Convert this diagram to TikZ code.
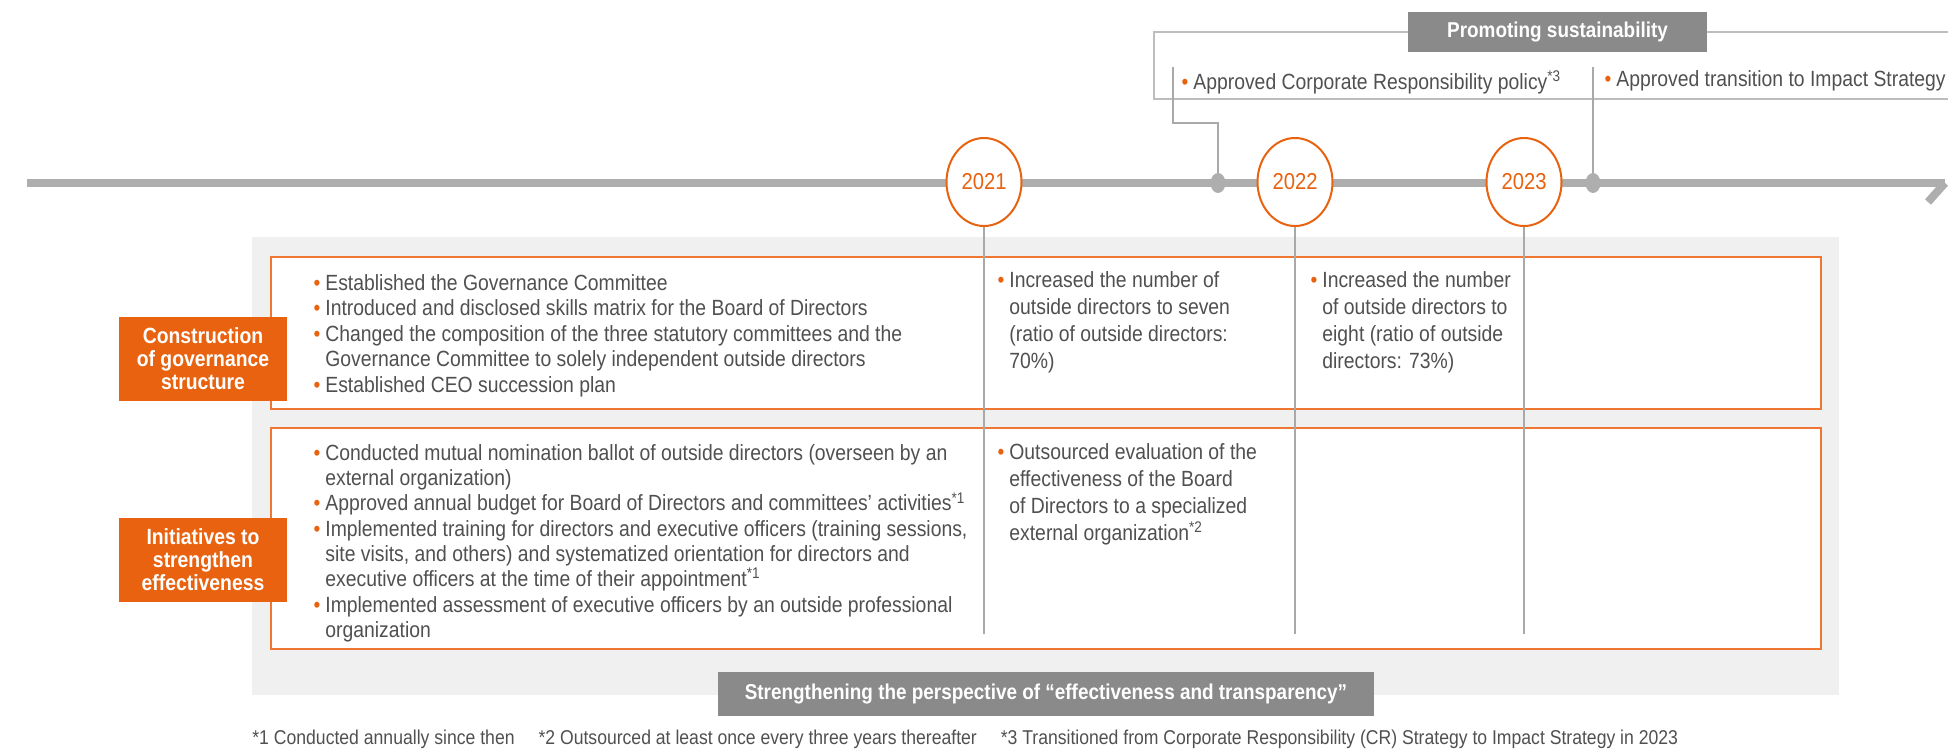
\documentclass[tikz,border=0pt]{standalone}
\usepackage{fontspec}
\setmainfont{Liberation Sans}[FakeStretch=0.88]
\usetikzlibrary{positioning,shapes.geometric}
\definecolor{OrangeClr}{HTML}{E8620F}
\definecolor{LineOrange}{HTML}{EE7733}
\definecolor{AxisClr}{HTML}{AEAEAE}
\definecolor{PanelClr}{HTML}{F0F0F0}
\definecolor{TagClr}{HTML}{8A8A8A}
\definecolor{TextClr}{HTML}{505050}
\definecolor{ThinClr}{HTML}{A9A9A9}
\definecolor{FrameClr}{HTML}{BDBDBD}
\newcommand{\bul}{\makebox[0pt][r]{\textcolor{OrangeClr}{\textbullet}\hspace{2.5pt}}}

\begin{document}
\begin{tikzpicture}[x=0.5pt,y=-0.5pt,
  every node/.style={inner sep=0pt,text=TextClr},
  bodytext/.style={anchor=north west,align=left,font=\fontsize{11pt}{12.75pt}\selectfont},
  celltext/.style={bodytext,font=\fontsize{11pt}{13.5pt}\selectfont},
  yearmark/.style={ellipse,draw=OrangeClr,line width=1pt,fill=white,minimum width=37.5pt,minimum height=44pt,text=OrangeClr,font=\fontsize{11.5pt}{13pt}\selectfont},
  axisdot/.style={ellipse,fill=AxisClr,minimum width=7.5pt,minimum height=10pt},
  rowtag/.style={fill=OrangeClr,text=white,align=center,font=\bfseries\fontsize{11pt}{11.5pt}\selectfont,minimum width=84pt,minimum height=42pt},
  greytag/.style={fill=TagClr,text=white,font=\bfseries\fontsize{10.75pt}{12pt}\selectfont},
  rowbox/.style={draw=LineOrange,line width=1.3pt,fill=white},
  colline/.style={draw=ThinClr,line width=0.9pt},
  frameline/.style={draw=FrameClr,line width=1.2pt}]
\useasboundingbox (0,0) rectangle (1948,755);

\fill[PanelClr] (252,237) rectangle (1839,695);
\draw[rowbox] (271,257) rectangle (1821,409);
\draw[rowbox] (271,428) rectangle (1821,649);

\coordinate (axisL) at (27,183);
\coordinate (axisR) at (1945,183);
\draw[AxisClr,line width=4pt] (axisL) -- (axisR);
\draw[AxisClr,line width=4pt] (axisR) -- ++(-17,19);

\node[axisdot] (cr) at (1218,183) {};
\node[axisdot] (impact) at (1593,183) {};
\node[yearmark] (y21) at (984,182) {2021};
\node[yearmark] (y22) at (1295,182) {2022};
\node[yearmark] (y23) at (1524,182) {2023};

\coordinate (colend) at (0,634);
\draw[colline] (y21.south) -- (y21 |- colend);
\draw[colline] (y22.south) -- (y22 |- colend);
\draw[colline] (y23.south) -- (y23 |- colend);

\node[greytag,minimum width=149.5pt,minimum height=20pt] (sustain) at (1557.5,32) {Promoting sustainability};
\coordinate (frameTL) at (1154,32);
\coordinate (frameBL) at (1154,99);
\coordinate (frameTR) at (1948,32);
\coordinate (frameBR) at (1948,99);
\draw[frameline] (sustain.west) -- (frameTL) -- (frameBL) -- (frameBR);
\draw[frameline] (sustain.east) -- (frameTR);

\coordinate (crtop) at (1173,67);
\coordinate (crbend) at (1173,123);
\draw[colline] (crtop) -- (crbend) -| (cr);
\draw[colline] (impact |- crtop) -- (impact);

\node[bodytext] (crtext) at (1193,70) {\bul Approved Corporate Responsibility policy\textsuperscript{*3}};
\node[bodytext] (impacttext) at (1616,70) {\bul Approved transition to Impact Strategy};

\node[bodytext] (gov0) at (325,274) {\bul Established the Governance Committee\\
\bul Introduced and disclosed skills matrix for the Board of Directors\\
\bul Changed the composition of the three statutory committees and the\\
Governance Committee to solely independent outside directors\\
\bul Established CEO succession plan};
\node[celltext] (gov21) at (1009,271) {\bul Increased the number of\\outside directors to seven\\(ratio of outside directors:\\70\%)};
\node[celltext] (gov22) at (1322,271) {\bul Increased the number\\of outside directors to\\eight (ratio of outside\\directors: 73\%)};

\node[bodytext,font=\fontsize{11pt}{12.65pt}\selectfont] (eff0) at (325,444) {\bul Conducted mutual nomination ballot of outside directors (overseen by an\\
external organization)\\
\bul Approved annual budget for Board of Directors and committees’ activities\textsuperscript{*1}\\
\bul Implemented training for directors and executive officers (training sessions,\\
site visits, and others) and systematized orientation for directors and\\
executive officers at the time of their appointment\textsuperscript{*1}\\
\bul Implemented assessment of executive officers by an outside professional\\
organization};
\node[celltext] (eff21) at (1009,443) {\bul Outsourced evaluation of the\\effectiveness of the Board\\of Directors to a specialized\\external organization\textsuperscript{*2}};

\node[rowtag] (govtag) at (203,359) {Construction\\of governance\\structure};
\node[rowtag] (efftag) at (203,560) {Initiatives to\\strengthen\\effectiveness};

\node[greytag,minimum width=328pt,minimum height=22pt] (perspective) at (1046,694) {Strengthening the perspective of “effectiveness and transparency”};

\node[anchor=west,font=\fontsize{10pt}{12pt}\selectfont] (notes) at (252,739) {*1 Conducted annually since then\hspace{1.2em}*2 Outsourced at least once every three years thereafter\hspace{1.2em}*3 Transitioned from Corporate Responsibility (CR) Strategy to Impact Strategy in 2023};

\end{tikzpicture}
\end{document}
